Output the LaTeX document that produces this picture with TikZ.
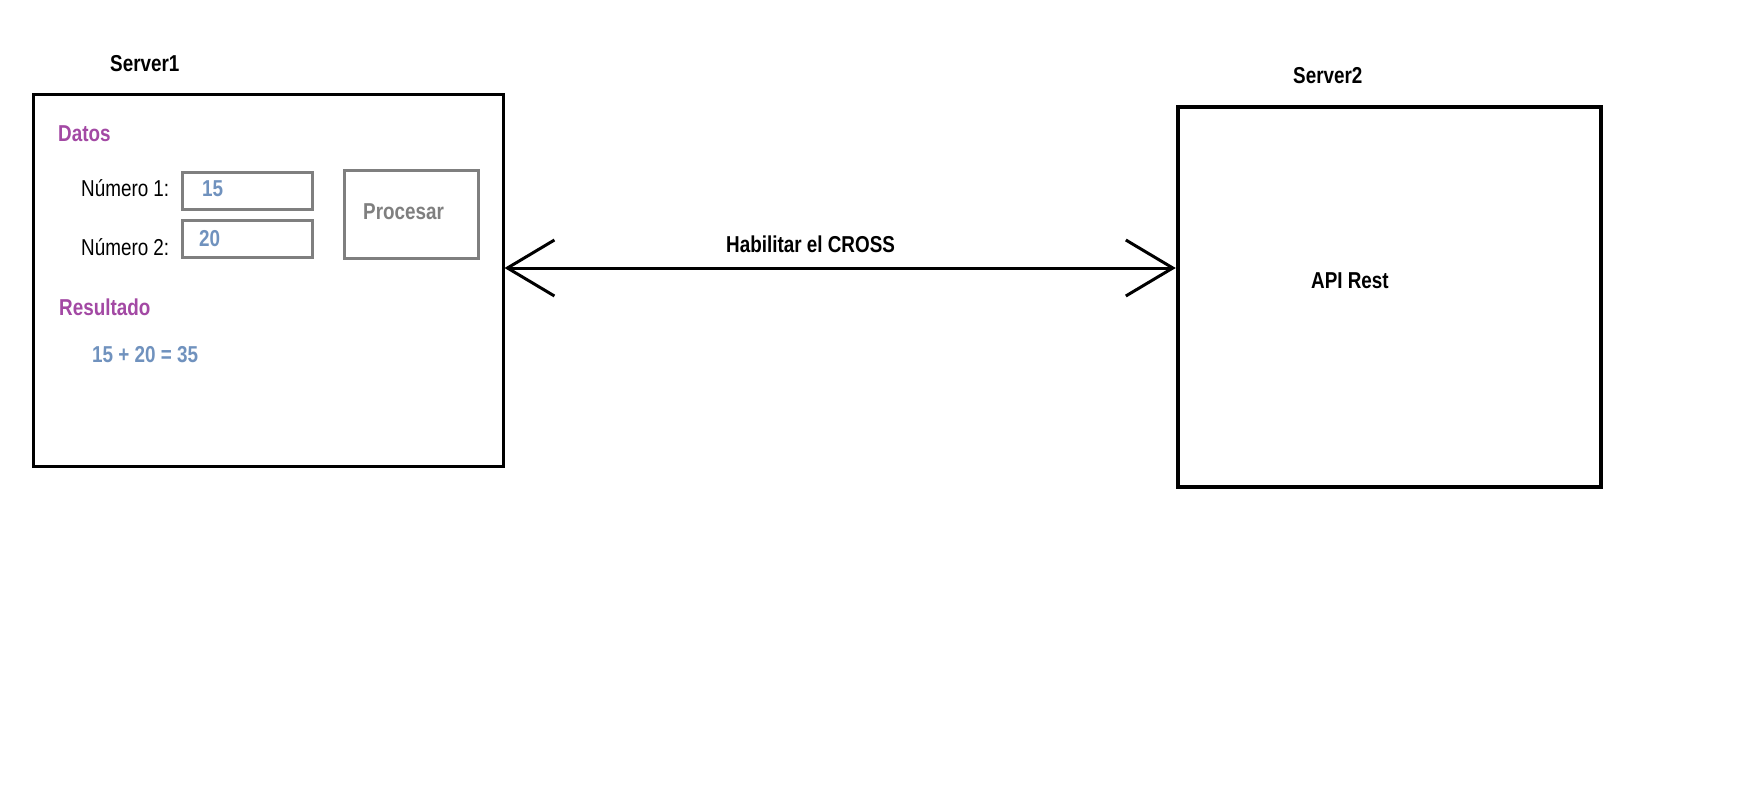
\documentclass[tikz,border=0pt]{standalone}
\usepackage{fontspec}
\setmainfont[FakeStretch=0.82]{Liberation Sans}
\usepackage{xcolor}
\usetikzlibrary{arrows.meta}
\definecolor{datpurple}{RGB}{163,73,164}
\definecolor{numblue}{RGB}{112,146,190}
\definecolor{boxgray}{RGB}{127,127,127}
\tikzset{
 txt/.style={anchor=base west,inner sep=0pt,font=\fontsize{23}{26}\selectfont},
 btxt/.style={txt,font=\fontsize{23}{26}\selectfont\bfseries},
 server/.style={draw,line width=3pt,inner sep=0pt},
 field/.style={draw=boxgray,line width=3pt,inner sep=0pt},
 barb/.tip={Straight Barb[length=47pt,width=56pt]}
}

\begin{document}
\begin{tikzpicture}[x=1pt,y=-1pt]
 \useasboundingbox[fill=white] (0,0) rectangle (1758,800);

 % Server1
 \node[btxt] (t1) at (110,71) {Server1};
 \node[server,minimum width=470pt,minimum height=372pt] (s1) at (268,280) {};
 \node[btxt,text=datpurple] (dat) at (58,141) {Datos};
 \node[txt] (n1) at (81,196) {Número 1:};
 \node[txt] (n2) at (81,255) {Número 2:};
 \node[field,minimum width=130pt,minimum height=37pt] (in1) at (247,190.5) {};
 \node[field,minimum width=130pt,minimum height=37pt] (in2) at (247,238.5) {};
 \node[btxt,text=numblue] (v1) at (202,196) {15};
 \node[btxt,text=numblue] (v2) at (199,246) {20};
 \node[field,minimum width=134pt,minimum height=88pt] (proc) at (411,214) {};
 \node[btxt,text=boxgray] (ptx) at (363,219) {Procesar};
 \node[btxt,text=datpurple] (res) at (59,315) {Resultado};
 \node[btxt,text=numblue] (sum) at (92,362) {15 + 20 = 35};

 % Server2
 \node[btxt] (t2) at (1293,83) {Server2};
 \node[server,line width=4.5pt,minimum width=423pt,minimum height=380pt] (s2) at (1389.5,297) {};
 \node[btxt] (api) at (1311,288) {API Rest};

 % enlace
 \coordinate (lnk) at (0,268);
 \draw[line width=3pt,{barb}-{barb}] (s1.east |- lnk) -- (s2.west |- lnk);
 \node[btxt] (cross) at (726,252) {Habilitar el CROSS};
\end{tikzpicture}
\end{document}
